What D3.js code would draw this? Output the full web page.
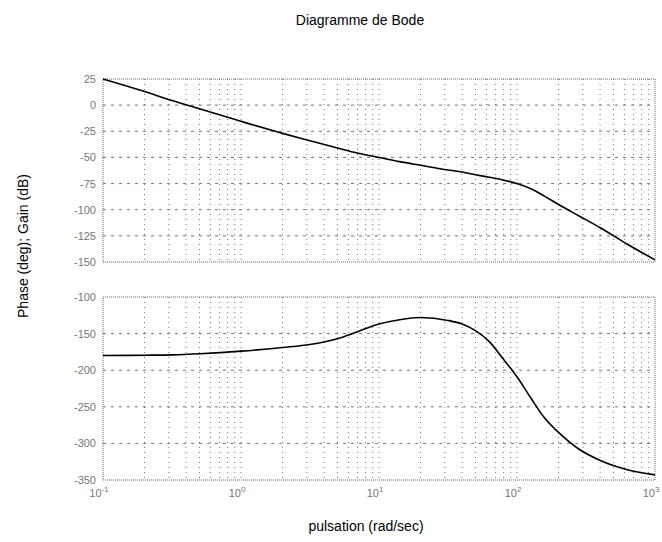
<!DOCTYPE html>
<html>
<head>
<meta charset="utf-8">
<script src="https://cdn.jsdelivr.net/npm/d3@7"></script>
<style>
  body { margin: 0; background: #fff; }
  text { font-family: "Liberation Sans", Arial, sans-serif; }
</style>
</head>
<body>
<script>
const svgWidth = 662;
const svgHeight = 542;

// pulsation (rad/sec)
const omega = [0.1, 0.2, 0.316, 0.5, 1, 2, 3.16, 5, 7.07, 10, 14.1, 20, 31.6, 40, 50, 63, 79, 100, 126, 158, 200, 282, 398, 631, 1000];
// gain (dB)
const gain = [25, 13, 4.5, -3.5, -15.5, -27, -34, -41, -46, -50, -54, -57.5, -62, -64, -66.5, -69, -71.5, -75, -80, -87, -95, -106, -117, -133, -148];
// phase (deg)
const phase = [-180, -179.5, -179, -177.5, -174, -169, -165, -157, -147, -137, -131, -128, -132, -137, -146, -161, -184, -209, -238, -265, -285, -308, -323, -336, -343];

const xTicks = [0.1, 1, 10, 100, 1000];
const xTickExp = ["-1", "0", "1", "2", "3"];
const gainTicks = [25, 0, -25, -50, -75, -100, -125, -150];
const phaseTicks = [-100, -150, -200, -250, -300, -350];

const svg = d3.select("body")
    .append("svg")
    .attr("width", svgWidth)
    .attr("height", svgHeight);

const left = 103, right = 655;

const x = d3.scaleLog()
    .domain([0.1, 1000])
    .range([left, right]);

// vertical grid positions : 1..9 x each decade
const gridX = [];
for (let e = -1; e < 3; e++) {
    for (let m = 1; m < 10; m++) gridX.push(m * Math.pow(10, e));
}

function drawPanel(top, bottom, domain, ticks, values) {
    const y = d3.scaleLinear()
        .domain(domain)
        .range([top, bottom]);

    const g = svg.append("g");

    // grid
    g.selectAll(".vgrid")
        .data(gridX.slice(1))
        .enter()
        .append("line")
        .attr("x1", d => x(d))
        .attr("x2", d => x(d))
        .attr("y1", top)
        .attr("y2", bottom)
        .attr("stroke", "#777")
        .attr("stroke-width", 1)
        .attr("stroke-dasharray", "1,4");

    g.selectAll(".hgrid")
        .data(ticks.slice(1, -1))
        .enter()
        .append("line")
        .attr("x1", left)
        .attr("x2", right)
        .attr("y1", d => y(d))
        .attr("y2", d => y(d))
        .attr("stroke", "#777")
        .attr("stroke-width", 1)
        .attr("stroke-dasharray", "3,5");

    // frame
    g.append("rect")
        .attr("x", left)
        .attr("y", top)
        .attr("width", right - left)
        .attr("height", bottom - top)
        .attr("fill", "none")
        .attr("stroke", "#666")
        .attr("stroke-width", 1)
        .attr("stroke-dasharray", "1,1");

    // y tick labels
    g.selectAll(".ylab")
        .data(ticks)
        .enter()
        .append("text")
        .attr("x", left - 7)
        .attr("y", d => y(d) + 4)
        .attr("text-anchor", "end")
        .style("font-size", "11px")
        .style("fill", "#777")
        .text(d => d);

    // curve
    const line = d3.line()
        .x((d, i) => x(omega[i]))
        .y(d => y(d))
        .curve(d3.curveMonotoneX);

    g.append("path")
        .datum(values)
        .attr("d", line)
        .attr("fill", "none")
        .attr("stroke", "#000")
        .attr("stroke-width", 1.6);

    return y;
}

drawPanel(79, 262, [25, -150], gainTicks, gain);
drawPanel(297, 480, [-100, -350], phaseTicks, phase);

// x tick labels (bottom panel only)
const xl = svg.selectAll(".xlab")
    .data(xTicks)
    .enter()
    .append("text")
    .attr("x", d => x(d) - 4)
    .attr("y", 497)
    .attr("text-anchor", "middle")
    .style("font-size", "11px")
    .style("fill", "#777");
xl.append("tspan").text("10");
xl.append("tspan")
    .attr("dy", -5)
    .style("font-size", "8px")
    .text((d, i) => xTickExp[i]);

// title and axis labels
svg.append("text")
    .attr("x", 360)
    .attr("y", 25)
    .attr("text-anchor", "middle")
    .style("font-size", "14px")
    .text("Diagramme de Bode");

svg.append("text")
    .attr("x", 366)
    .attr("y", 531)
    .attr("text-anchor", "middle")
    .style("font-size", "14px")
    .text("pulsation (rad/sec)");

svg.append("text")
    .attr("transform", "translate(28,246) rotate(-90)")
    .attr("text-anchor", "middle")
    .style("font-size", "14px")
    .text("Phase (deg); Gain (dB)");
</script>
</body>
</html>
